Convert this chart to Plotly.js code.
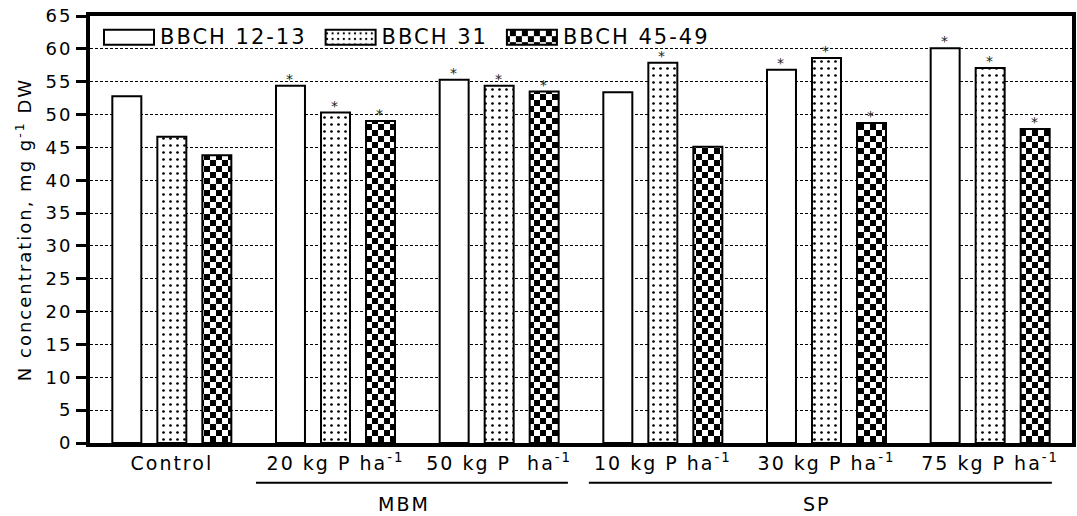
<!DOCTYPE html>
<html>
<head>
<meta charset="utf-8">
<script src="https://cdn.plot.ly/plotly-3.0.1.min.js"></script>
<style>
html,body{margin:0;padding:0;background:#fff;overflow:hidden;}
#chart{width:1077px;height:516px;}
text{letter-spacing:2px;}
</style>
</head>
<body>
<div id="chart"></div>
<script>
// ---- data ----
const categories = ["Control", "20 kg P ha<sup>-1</sup>", "50 kg P&nbsp;&nbsp;ha<sup>-1</sup>",
                    "10 kg P ha<sup>-1</sup>", "30 kg P ha<sup>-1</sup>", "75 kg P ha<sup>-1</sup>"];
const seriesNames = ["BBCH 12-13", "BBCH 31", "BBCH 45-49"];
const bbch1213 = [52.8, 54.4, 55.3, 53.4, 56.8, 60.1];
const bbch31   = [46.6, 50.3, 54.4, 57.9, 58.6, 57.1];
const bbch4549 = [43.8, 49.0, 53.5, 45.1, 48.7, 47.8];
const sig1213 = [false, true, true, false, true, true];
const sig31   = [false, true, true, true, true, true];
const sig4549 = [false, true, true, false, true, true];
const groupLabels = ["MBM", "SP"];
const yTicks = [0,5,10,15,20,25,30,35,40,45,50,55,60,65];

const FONT = "DejaVu Sans";
function barTrace(name, y, pattern){
  const m = {color:"#ffffff", line:{color:"#000", width:2}};
  if(pattern) m.pattern = pattern;
  return {type:"bar", name:name, x:categories, y:y, marker:m, hoverinfo:"skip"};
}
const traces = [
  barTrace(seriesNames[0], bbch1213, null),
  barTrace(seriesNames[1], bbch31, {shape:".", fgcolor:"#000", bgcolor:"#fff", size:7, solidity:0.12}),
  barTrace(seriesNames[2], bbch4549, null)
];

// significance stars above bars
const SLOT = 45;
const starAnns = [];
[[bbch1213, sig1213], [bbch31, sig31], [bbch4549, sig4549]].forEach(function(s, k){
  s[0].forEach(function(v, i){
    if(!s[1][i]) return;
    starAnns.push({xref:"x", yref:"y", x:categories[i], y:v, xshift:(k-1)*SLOT, yshift:-3,
      yanchor:"bottom", text:"*", showarrow:false,
      font:{family:FONT, size:14, color:"#222"}});
  });
});

const layout = {
  width:1077, height:516,
  margin:{l:90, r:5, t:16, b:73},
  paper_bgcolor:"#fff", plot_bgcolor:"#fff",
  font:{family:FONT, size:18, color:"#000"},
  barmode:"group", bargap:0.175, bargroupgap:0.356,
  showlegend:true,
  legend:{orientation:"h", x:0.0, y:1.0, xanchor:"left", yanchor:"top",
          font:{family:FONT, size:21, color:"#000"}, bgcolor:"rgba(0,0,0,0)",
          itemwidth:60, traceorder:"normal"},
  xaxis:{type:"category", showline:true, linewidth:4, linecolor:"#000", mirror:true,
         ticks:"", showgrid:false, tickfont:{family:FONT, size:19}, fixedrange:true, automargin:false},
  yaxis:{range:[0,65], tickvals:yTicks, ticktext:yTicks.map(String),
         showline:true, linewidth:4, linecolor:"#000", mirror:true,
         ticks:"outside", ticklen:10, tickwidth:3, tickcolor:"#000",
         showgrid:true, gridcolor:"#000", gridwidth:1, griddash:"3px,2px",
         zeroline:false, tickfont:{family:FONT, size:18}, automargin:false,
         title:{text:"N concentration, mg g<sup>-1</sup> DW", font:{family:FONT, size:18}, standoff:10},
         fixedrange:true},
  shapes:[
    {type:"line", xref:"x", yref:"paper", x0:0.514, x1:2.42, y0:-0.093, y1:-0.093, line:{color:"#000", width:2}},
    {type:"line", xref:"x", yref:"paper", x0:2.548, x1:5.377, y0:-0.093, y1:-0.093, line:{color:"#000", width:2}}
  ],
  annotations:starAnns.concat([
    {xref:"x", yref:"paper", x:1.42, y:-0.142, yanchor:"middle", text:groupLabels[0], showarrow:false, font:{family:FONT, size:19}},
    {xref:"x", yref:"paper", x:3.94, y:-0.142, yanchor:"middle", text:groupLabels[1], showarrow:false, font:{family:FONT, size:19}}
  ])
};

Plotly.newPlot("chart", traces, layout, {staticPlot:true, displayModeBar:false}).then(function(gd){
  const svg = gd.querySelector("svg.main-svg");
  const NS = "http://www.w3.org/2000/svg";
  let defs = svg.querySelector("defs");
  if(!defs){ defs = document.createElementNS(NS,"defs"); svg.insertBefore(defs, svg.firstChild); }
  const pat = document.createElementNS(NS,"pattern");
  pat.setAttribute("id","chk"); pat.setAttribute("patternUnits","userSpaceOnUse");
  pat.setAttribute("width","12"); pat.setAttribute("height","12");
  [[0,0,12,12,"#fff"],[0,0,6,6,"#000"],[6,6,6,6,"#000"]].forEach(function(r){
    const e = document.createElementNS(NS,"rect");
    e.setAttribute("x",r[0]); e.setAttribute("y",r[1]); e.setAttribute("width",r[2]); e.setAttribute("height",r[3]); e.setAttribute("fill",r[4]);
    pat.appendChild(e);
  });
  defs.appendChild(pat);
  const barTr = gd.querySelectorAll(".barlayer .trace.bars");
  if(barTr[2]) barTr[2].querySelectorAll("path").forEach(function(p){ p.style.fill = "url(#chk)"; });
  // legend symbols: wide rectangles
  const items = gd.querySelectorAll(".legend .traces");
  items.forEach(function(it, i){
    const p = it.querySelector(".legendpoints path");
    const t = it.querySelector("text.legendtext");
    if(!p || !t) return;
    if(i===2) p.style.fill = "url(#chk)";
    const tb = t.getBoundingClientRect();
    const m = p.getScreenCTM().inverse();
    const pt = svg.createSVGPoint();
    function loc(x,y){ pt.x=x; pt.y=y; const r = pt.matrixTransform(m); return [r.x, r.y]; }
    const cy = tb.top + tb.height*0.5;
    const a = loc(tb.left-56, cy-7.5), b = loc(tb.left-6, cy+7.5);
    p.setAttribute("d","M"+a[0]+","+a[1]+"H"+b[0]+"V"+b[1]+"H"+a[0]+"Z");
    p.style.strokeWidth = "2px"; p.style.stroke = "#000";
  });
});
</script>
</body>
</html>
